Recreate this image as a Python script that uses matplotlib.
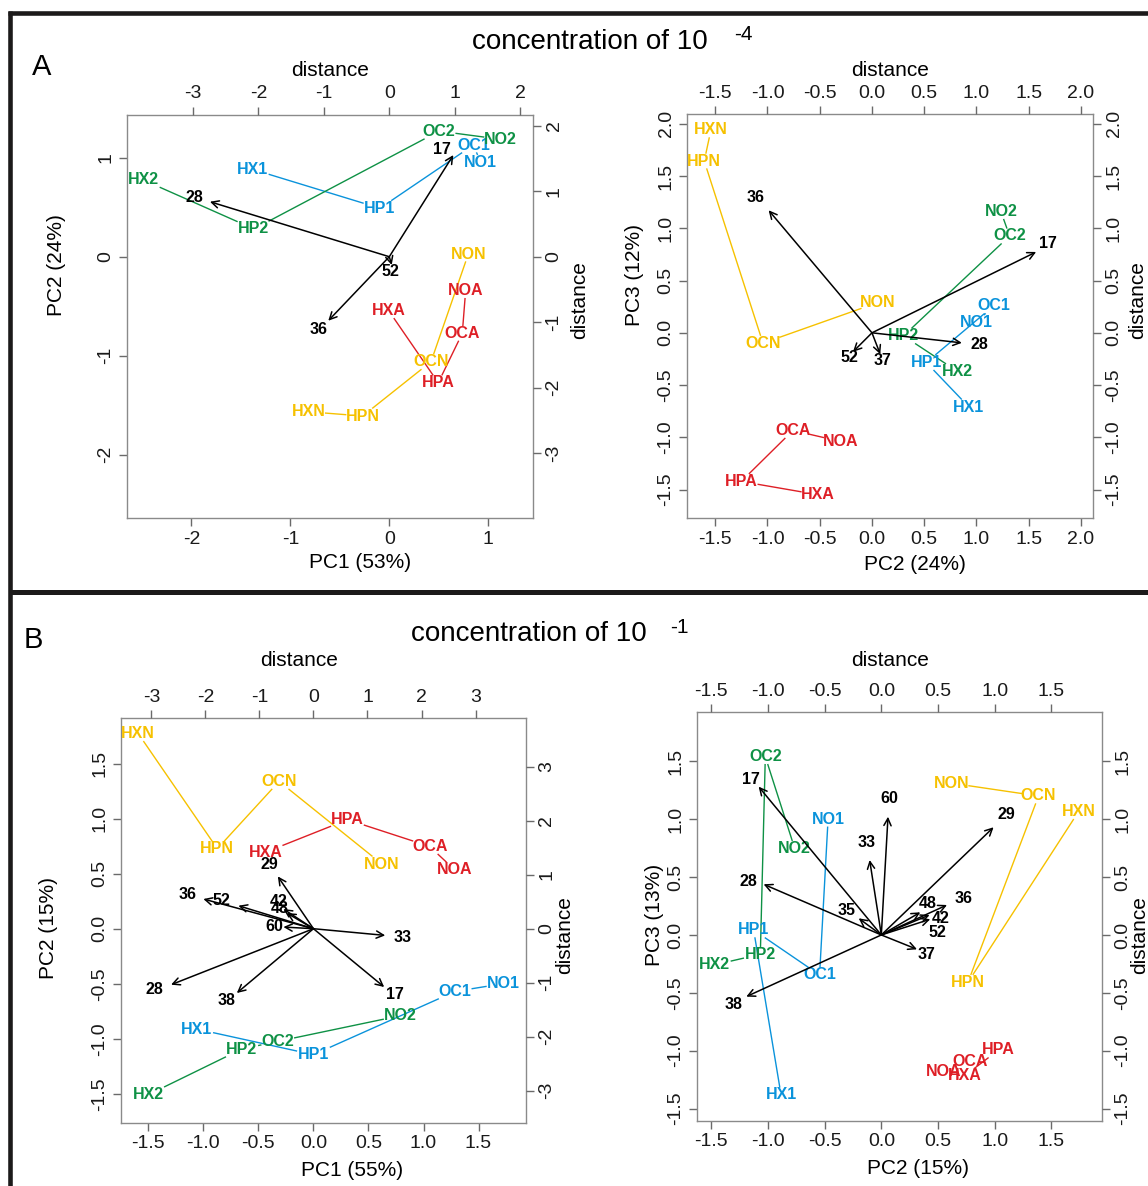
"""PCA biplots of odorant responses at two concentrations (10^-4 and 10^-1)."""

import matplotlib

matplotlib.use("Agg")
import matplotlib.pyplot as plt
import numpy as np
from matplotlib import font_manager
from matplotlib.lines import Line2D

W, H = 1148, 1186

# score labels: prefix (HX, HP, OC, NO) + group suffix (1, 2, N, A)
SCORE_NAMES = ["HX1", "HP1", "OC1", "NO1", "HX2", "HP2", "OC2", "NO2",
               "HXN", "HPN", "OCN", "NON", "HXA", "HPA", "OCA", "NOA"]

# --- panel A, PC1 vs PC2 ------------------------------------------------------
A1_X = [-1.385, -0.094, 0.850, 0.924, -2.487, -1.368, 0.504, 1.126,
        -0.815, -0.269, 0.422, 0.799, -0.006, 0.495, 0.738, 0.772]
A1_Y = [0.883, 0.489, 1.128, 0.953, 0.775, 0.280, 1.268, 1.186,
        -1.566, -1.609, -1.060, 0.027, -0.545, -1.273, -0.774, -0.343]
A1_VARS = ["17", "28", "36", "52"]
A1_TIP_X = [0.979, -2.742, -0.933, 0.037]
A1_TIP_Y = [1.555, 0.841, -0.979, -0.127]
A1_LAB_X = [0.802, -2.986, -1.079, 0.021]
A1_LAB_Y = [1.642, 0.908, -1.110, -0.229]

# --- panel A, PC2 vs PC3 ------------------------------------------------------
A2_X = [0.928, 0.520, 1.164, 0.995, 0.819, 0.302, 1.317, 1.234,
        -1.541, -1.605, -1.043, 0.057, -0.517, -1.251, -0.756, -0.303]
A2_Y = [-0.710, -0.284, 0.258, 0.098, -0.370, -0.029, 0.927, 1.160,
        1.941, 1.644, -0.099, 0.290, -1.549, -1.422, -0.934, -1.039]
A2_VARS = ["17", "28", "36", "37", "52"]
A2_TIP_X = [1.571, 0.860, -0.989, 0.079, -0.182]
A2_TIP_Y = [0.774, -0.096, 1.173, -0.204, -0.182]
A2_LAB_X = [1.688, 1.026, -1.116, 0.105, -0.214]
A2_LAB_Y = [0.855, -0.108, 1.294, -0.268, -0.235]

# --- panel B, PC1 vs PC2 ------------------------------------------------------
B1_X = [-1.060, 0.0, 1.288, 1.722, -1.500, -0.651, -0.324, 0.788,
        -1.591, -0.873, -0.312, 0.622, -0.430, 0.309, 1.055, 1.282]
B1_Y = [-0.912, -1.145, -0.570, -0.500, -1.509, -1.094, -1.024, -0.791,
        1.773, 0.727, 1.339, 0.588, 0.697, 0.991, 0.748, 0.536]
B1_VARS = ["17", "28", "29", "33", "36", "38", "42", "48", "52", "60"]
B1_TIP_X = [1.309, -2.635, -0.659, 1.328, -2.037, -1.418, -0.556, -0.493, -1.389, -0.556]
B1_TIP_Y = [-1.080, -1.037, 0.969, -0.124, 0.550, -1.191, 0.365, 0.290, 0.426, 0.031]
B1_LAB_X = [1.500, -2.944, -0.815, 1.655, -2.333, -1.604, -0.648, -0.617, -1.709, -0.728]
B1_LAB_Y = [-1.222, -1.117, 1.185, -0.154, 0.630, -1.327, 0.506, 0.383, 0.519, 0.043]

# --- panel B, PC2 vs PC3 ------------------------------------------------------
B2_X = [-0.885, -1.127, -0.545, -0.470, -1.474, -1.068, -1.024, -0.765,
        1.741, 0.765, 1.388, 0.624, 0.733, 1.035, 0.780, 0.550]
B2_Y = [-1.383, 0.043, -0.346, 1.000, -0.259, -0.167, 1.541, 0.749,
        1.066, -0.409, 1.201, 1.311, -1.219, -0.994, -1.095, -1.181]
B2_VARS = ["17", "28", "29", "33", "35", "36", "37", "38", "42", "48", "52", "60"]
B2_TIP_X = [-1.083, -1.039, 0.991, -0.103, -0.200, 0.580, 0.315, -1.192, 0.426, 0.344, 0.432, 0.059]
B2_TIP_Y = [1.282, 0.438, 0.931, 0.648, 0.144, 0.259, -0.124, -0.533, 0.173, 0.196, 0.136, 1.022]
B2_LAB_X = [-1.150, -1.177, 1.103, -0.126, -0.309, 0.727, 0.403, -1.309, 0.527, 0.409, 0.497, 0.073]
B2_LAB_Y = [1.346, 0.461, 1.037, 0.798, 0.210, 0.311, -0.167, -0.605, 0.144, 0.268, 0.020, 1.181]

# tick values
TICKS_INT4 = [-2, -1, 0, 1]
TICKS_INT3 = [-3, -2, -1, 0, 1, 2]
TICKS_INT33 = [-3, -2, -1, 0, 1, 2, 3]
TICKS_HALF_20 = [-1.5, -1.0, -0.5, 0.0, 0.5, 1.0, 1.5, 2.0]
TICKS_HALF_15 = [-1.5, -1.0, -0.5, 0.0, 0.5, 1.0, 1.5]

GROUP_COLORS = {"1": "#0a93db", "2": "#0e9145", "N": "#f6c100", "A": "#de1f26"}
PREFIXES = ["HX", "HP", "OC", "NO"]

_fonts = {f.name for f in font_manager.fontManager.ttflist}
if "Liberation Sans Narrow" in _fonts:
    LAB_FAMILY, LAB_SIZE = "Liberation Sans Narrow", 12.5
else:
    LAB_FAMILY, LAB_SIZE = "Liberation Sans", 11.5
TXT_FAMILY = ["Liberation Sans", "DejaVu Sans"]
TICK_SIZE = 14
AX_SIZE = 15


def frect(left, top, right, bottom):
    return [left / W, 1 - bottom / H, (right - left) / W, (bottom - top) / H]


def fxy(x, y):
    return x / W, 1 - y / H


def connect(ax, xs, ys, color, hw=17, hh=8):
    """Join label centres, leaving a gap around each label (like R type='b')."""
    pts = ax.transData.transform(np.column_stack([xs, ys]))
    inv = ax.transData.inverted()
    for p, q in zip(pts[:-1], pts[1:]):
        d = q - p
        tx = hw / abs(d[0]) if d[0] else np.inf
        ty = hh / abs(d[1]) if d[1] else np.inf
        t = min(tx, ty)
        if 2 * t >= 1:
            continue
        seg = inv.transform(np.array([p + t * d, q - t * d]))
        ax.plot(seg[:, 0], seg[:, 1], color=color, lw=1.0, zorder=2)


def fmt_ticks(ticks):
    return [f"{t:.1f}" if isinstance(t, float) else str(t) for t in ticks]


def style_ticks(ax):
    ax.tick_params(direction="out", length=6, color="#6a6a6a", width=1,
                   labelsize=TICK_SIZE, pad=3, labelcolor="#1a1a1a")
    for lbl in ax.get_yticklabels():
        lbl.set_rotation(90)
        lbl.set_va("center")
    for lbl in ax.get_xticklabels() + ax.get_yticklabels():
        lbl.set_family(TXT_FAMILY)


def draw_panel(fig, box, xs, ys, vars_, tip_x, tip_y, lab_x, lab_y,
               lims, dlims, ticks, dticks, xlabel, ylabel, label_pos):
    ax = fig.add_axes(frect(*box))
    ax.set_xlim(*lims[0])
    ax.set_ylim(*lims[1])
    ax.set_autoscale_on(False)
    for s in ax.spines.values():
        s.set_color("#8a8a8a")
        s.set_linewidth(1.0)
    ax.set_xticks(ticks[0], labels=fmt_ticks(ticks[0]))
    ax.set_yticks(ticks[1], labels=fmt_ticks(ticks[1]))
    style_ticks(ax)

    # score labels and group polylines
    pos = {n: (x, y) for n, x, y in zip(SCORE_NAMES, xs, ys)}
    for suffix, color in GROUP_COLORS.items():
        chain = [pos[p + suffix] for p in PREFIXES]
        connect(ax, [c[0] for c in chain], [c[1] for c in chain], color)
    for n, (x, y) in pos.items():
        ax.text(x, y, n, ha="center", va="center", color=GROUP_COLORS[n[-1]],
                fontsize=LAB_SIZE, fontweight="bold", family=LAB_FAMILY, zorder=3)

    ax.set_xlabel(xlabel, fontsize=AX_SIZE, family=TXT_FAMILY)
    ax.set_ylabel(ylabel, fontsize=AX_SIZE, family=TXT_FAMILY)
    ax.xaxis.set_label_coords(*fxy(*label_pos[0]), transform=fig.transFigure)
    ax.yaxis.set_label_coords(*fxy(*label_pos[1]), transform=fig.transFigure)
    ax.xaxis.label.set_va("center")
    ax.yaxis.label.set_va("center")

    # variable loadings on the "distance" axes
    ax2 = fig.add_axes(frect(*box), zorder=ax.get_zorder() + 1)
    ax2.patch.set_visible(False)
    for s in ax2.spines.values():
        s.set_visible(False)
    ax2.set_xlim(*dlims[0])
    ax2.set_ylim(*dlims[1])
    ax2.xaxis.tick_top()
    ax2.yaxis.tick_right()
    ax2.set_xticks(dticks[0], labels=fmt_ticks(dticks[0]))
    ax2.set_yticks(dticks[1], labels=fmt_ticks(dticks[1]))
    style_ticks(ax2)
    for v, tx, ty, lx, ly in zip(vars_, tip_x, tip_y, lab_x, lab_y):
        ax2.annotate("", xy=(tx, ty), xytext=(0, 0),
                     arrowprops=dict(arrowstyle="->", lw=1.1, color="black",
                                     shrinkA=0, shrinkB=0, mutation_scale=13))
        ax2.text(lx, ly, v, ha="center", va="center", color="black",
                 fontsize=LAB_SIZE, fontweight="bold", family=LAB_FAMILY)
    ax2.set_xlabel("distance", fontsize=AX_SIZE, family=TXT_FAMILY)
    ax2.set_ylabel("distance", fontsize=AX_SIZE, family=TXT_FAMILY)
    ax2.xaxis.set_label_position("top")
    ax2.yaxis.set_label_position("right")
    ax2.xaxis.set_label_coords(*fxy(*label_pos[2]), transform=fig.transFigure)
    ax2.yaxis.set_label_coords(*fxy(*label_pos[3]), transform=fig.transFigure)
    ax2.xaxis.label.set_va("center")
    ax2.yaxis.label.set_va("center")
    ax2.yaxis.label.set_rotation(90)


fig = plt.figure(figsize=(W / 100, H / 100), dpi=100)

# frame lines around the two rows
frame = dict(color="#1c1a1a", transform=fig.transFigure, solid_capstyle="butt")
fig.add_artist(Line2D([8 / W, 1], [1 - 13 / H] * 2, lw=3.3, **frame))
fig.add_artist(Line2D([10.3 / W] * 2, [1 - 11 / H, 0], lw=3.3, **frame))
fig.add_artist(Line2D([10 / W, 1], [1 - 592 / H] * 2, lw=3.6, **frame))

fig.text(*fxy(42, 67), "A", fontsize=21, family=TXT_FAMILY, ha="center", va="center")
fig.text(*fxy(33, 640), "B", fontsize=21, family=TXT_FAMILY, ha="center", va="center")
fig.text(*fxy(590, 42), "concentration of 10", fontsize=20, family=TXT_FAMILY,
         ha="center", va="center")
fig.text(*fxy(743, 35), "-4", fontsize=15, family=TXT_FAMILY, ha="center", va="center")
fig.text(*fxy(529, 634), "concentration of 10", fontsize=20, family=TXT_FAMILY,
         ha="center", va="center")
fig.text(*fxy(679, 627), "-1", fontsize=15, family=TXT_FAMILY, ha="center", va="center")

draw_panel(fig, (127, 115, 533, 518), A1_X, A1_Y, A1_VARS,
           A1_TIP_X, A1_TIP_Y, A1_LAB_X, A1_LAB_Y,
           ((-2.652, 1.453), (-2.639, 1.431)), ((-4.01, 2.197), (-3.995, 2.167)),
           (TICKS_INT4, TICKS_INT4), (TICKS_INT3, TICKS_INT3),
           "PC1 (53%)", "PC2 (24%)", ((360, 562), (57, 265), (330, 71), (580, 300)))

draw_panel(fig, (687, 114, 1093, 518), A2_X, A2_Y, A2_VARS,
           A2_TIP_X, A2_TIP_Y, A2_LAB_X, A2_LAB_Y,
           ((-1.770, 2.115), (-1.772, 2.094)), ((-1.770, 2.115), (-1.772, 2.094)),
           (TICKS_HALF_20, TICKS_HALF_20), (TICKS_HALF_20, TICKS_HALF_20),
           "PC2 (24%)", "PC3 (12%)", ((915, 565), (635, 275), (890, 71), (1138, 300)))

draw_panel(fig, (121, 718, 526, 1123), B1_X, B1_Y, B1_VARS,
           B1_TIP_X, B1_TIP_Y, B1_LAB_X, B1_LAB_Y,
           ((-1.748, 1.931), (-1.766, 1.915)), ((-3.561, 3.933), (-3.598, 3.902)),
           (TICKS_HALF_15, TICKS_HALF_15), (TICKS_INT33, TICKS_INT33),
           "PC1 (55%)", "PC2 (15%)", ((352, 1170), (48, 928), (299, 661), (565, 935)))

draw_panel(fig, (697, 712, 1102, 1121), B2_X, B2_Y, B2_VARS,
           B2_TIP_X, B2_TIP_Y, B2_LAB_X, B2_LAB_Y,
           ((-1.627, 1.948), (-1.608, 1.927)), ((-1.627, 1.948), (-1.608, 1.927)),
           (TICKS_HALF_15, TICKS_HALF_15), (TICKS_HALF_15, TICKS_HALF_15),
           "PC2 (15%)", "PC3 (13%)", ((918, 1168), (655, 915), (890, 661), (1140, 935)))

fig.savefig("out.png", dpi=100)
